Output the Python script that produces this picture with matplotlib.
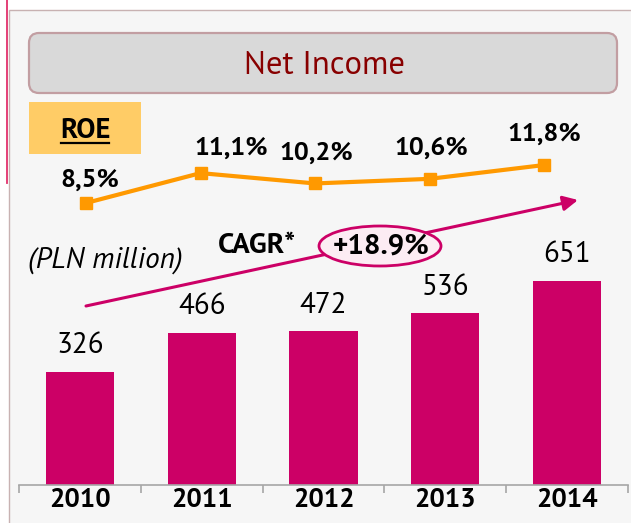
import matplotlib
matplotlib.use('Agg')
from matplotlib import pyplot as plt
from matplotlib.patches import Rectangle, FancyBboxPatch, Ellipse
import numpy as np

# data
years = ['2010', '2011', '2012', '2013', '2014']
net_income = [326, 466, 472, 536, 651]
roe = [8.5, 11.1, 10.2, 10.6, 11.8]
cagr_text = '+18.9%'

plt.rcParams['font.family'] = ['PT Sans', 'DejaVu Sans']

W, H = 631, 523
PINK = '#cc0066'
ORANGE = '#ff9900'

fig = plt.figure(figsize=(W / 100, H / 100), dpi=100)
fig.patch.set_facecolor('white')


def px_axes(x0, y0, x1, y1, z):
    # axes placed by pixel box (top-left origin)
    a = fig.add_axes([x0 / W, 1 - y1 / H, (x1 - x0) / W, (y1 - y0) / H], zorder=z)
    a.patch.set_alpha(0)
    return a


# background overlay in pixel coordinates
bg = px_axes(0, 0, W, H, 0)
bg.set_xlim(0, W)
bg.set_ylim(H, 0)
bg.axis('off')
bg.add_patch(Rectangle((8.5, 9.5), W, H, fc='#f6f6f6', ec='#c8b2b2', lw=1))
bg.plot([6.5, 6.5], [0, 183], color='#e2306c', lw=1.3)
bg.add_patch(FancyBboxPatch((29, 33), 588, 60, boxstyle='round,pad=0,rounding_size=10',
                            fc='#d9d9d9', ec='#c29ea2', lw=1.6))
bg.text(325, 66, 'Net Income', color='#880000', fontsize=23.5, ha='center', va='center')
bg.add_patch(Rectangle((29, 102), 112, 52, fc='#ffcc66', ec='none'))
bg.text(85, 131, 'ROE', fontsize=20.5, fontweight='bold', ha='center', va='center')
bg.plot([61, 109], [142.5, 142.5], color='black', lw=1.6)
bg.text(105.5, 260, '(PLN million)', fontsize=21, style='italic', ha='center', va='center')

# bars
ax = px_axes(19, 100, 628, 485, 1)
x = np.arange(len(years))
base = -77.6
bars = ax.bar(x, np.array(net_income) - base, bottom=base, width=0.56, color=PINK)
for i, v in enumerate(net_income):
    ax.annotate(str(v), (x[i], v), xytext=(0, 26), textcoords='offset pixels',
                ha='center', va='center', fontsize=21)
ax.set_xlim(-0.5, 4.5)
ax.set_ylim(base, base + 385 / 0.28)
for s in ['left', 'right', 'top']:
    ax.spines[s].set_visible(False)
ax.spines['bottom'].set_color('#a6a6a6')
ax.spines['bottom'].set_linewidth(1.2)
ax.set_yticks([])
ax.set_xticks(x)
ax.set_xticklabels(years, fontsize=19.5, fontweight='bold')
ax.tick_params(axis='x', which='major', length=0, pad=2)
ax.set_xticks(np.arange(-0.5, 5), minor=True)
ax.tick_params(axis='x', which='minor', length=6, color='#a6a6a6', width=1.2)

# ROE line
lx = px_axes(19, 100, 628, 485, 2)
lx.plot(x, roe, color=ORANGE, lw=3, marker='s', markersize=8)
lx.set_xlim((19 - 86) / 114.5, 4 + (628 - 544) / 114.5)
lx.set_ylim(8.5 - (485 - 203) / 11.5, 8.5 + (203 - 100) / 11.5)
lx.axis('off')
label_offsets = [(4, 23), (31, 25), (1, 30), (2, 31), (0, 31)]
for i, v in enumerate(roe):
    lx.annotate(f'{v:.1f}%'.replace('.', ','), (x[i], v), xytext=label_offsets[i],
                textcoords='offset pixels', ha='center', va='center',
                fontsize=19, fontweight='bold')

# CAGR arrow + ellipse
fg = px_axes(0, 0, W, H, 3)
fg.set_xlim(0, W)
fg.set_ylim(H, 0)
fg.axis('off')
fg.annotate('', xy=(578, 200), xytext=(86, 306),
            arrowprops=dict(arrowstyle='-|>', color=PINK, lw=2.2, mutation_scale=22,
                            shrinkA=0, shrinkB=0))
fg.add_patch(Ellipse((380, 246), 122, 40, fc='#fcecf3', ec=PINK, lw=2, zorder=3))
fg.text(381, 247, cagr_text, fontsize=21, fontweight='bold', ha='center', va='center', zorder=4)
fg.text(257, 246, 'CAGR*', fontsize=21, fontweight='bold', ha='center', va='center', zorder=4)

fig.savefig('out.png', dpi=100)
